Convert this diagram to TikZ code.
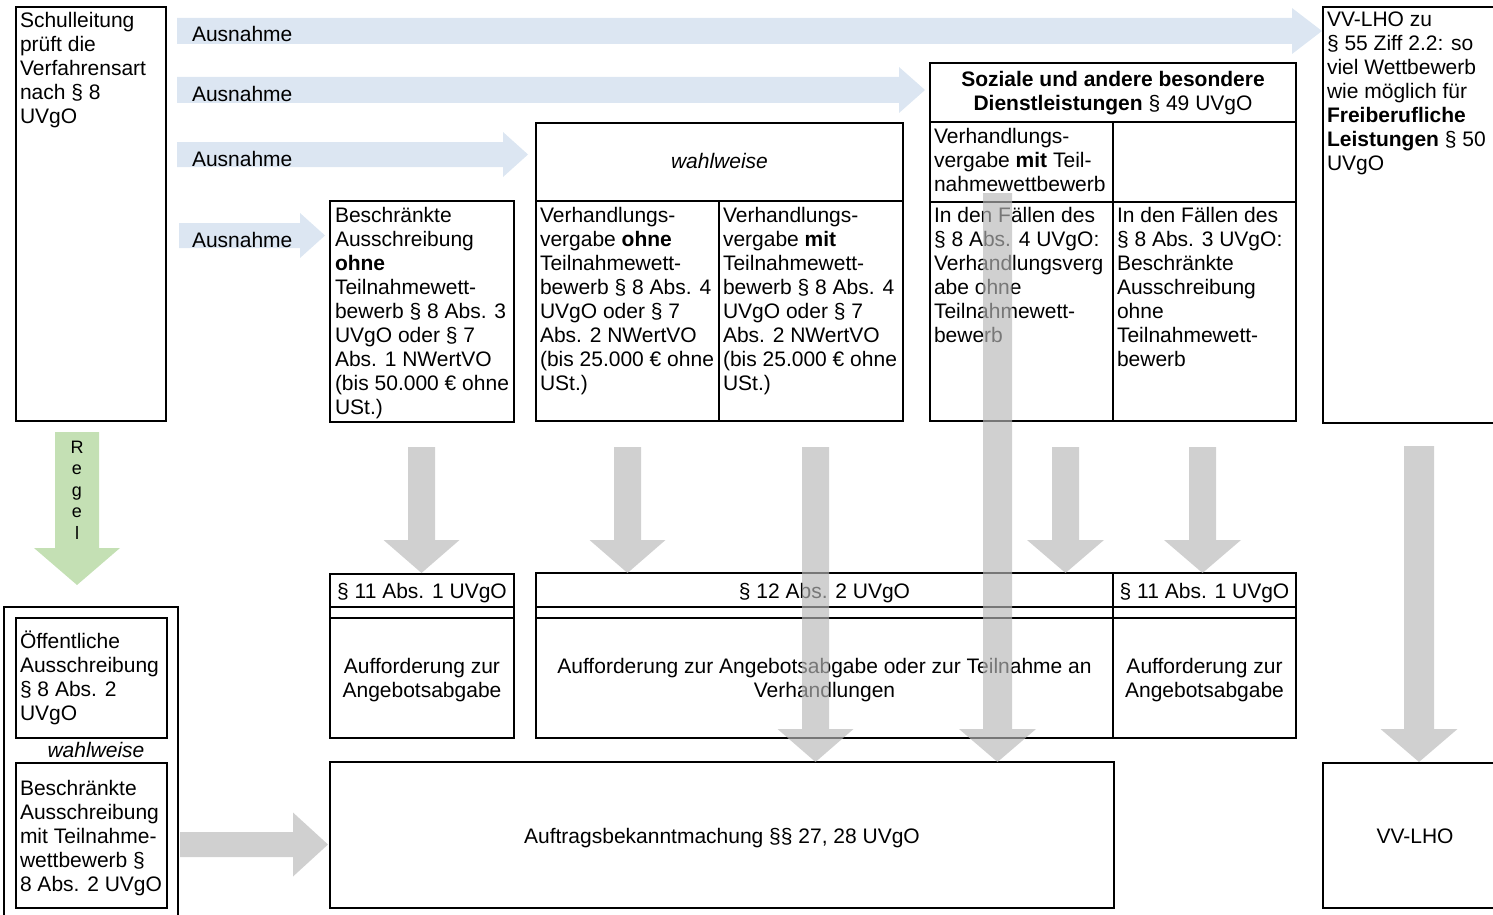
\documentclass[tikz,border=0pt]{standalone}
\usepackage{fontspec}
\setmainfont{Liberation Sans}
\definecolor{blueA}{RGB}{220,230,242}
\definecolor{greenA}{RGB}{196,224,180}
\definecolor{grayA}{RGB}{183,183,183}
\newcommand\bx[5]{\node[box, minimum width={(#4)-(#2)}, minimum height={(#5)-(#3)}] (#1) at (#2,#3) {};}
\newcommand\tl[1]{\begin{tabular}[t]{@{}l@{}}#1\end{tabular}}
\newcommand\tc[1]{\begin{tabular}[t]{@{}c@{}}#1\end{tabular}}
% down block arrow: style, xc, ytop, ytip, half shaft, half head, head length
\newcommand\DArr[7]{\fill[#1] ({#2-#5},#3) -- ({#2+#5},#3) -- ({#2+#5},{#4-#7}) -- ({#2+#6},{#4-#7}) -- (#2,#4) -- ({#2-#6},{#4-#7}) -- ({#2-#5},{#4-#7}) -- cycle;}
% right block arrow: style, x0, yc, xtip, half shaft, half head, head length
\newcommand\RArr[7]{\fill[#1] (#2,{#3-#5}) -- ({#4-#7},{#3-#5}) -- ({#4-#7},{#3-#6}) -- (#4,#3) -- ({#4-#7},{#3+#6}) -- ({#4-#7},{#3+#5}) -- (#2,{#3+#5}) -- cycle;}
\begin{document}
\begin{tikzpicture}[x=1pt,y=-1pt,
  box/.style={draw, line width=2.2pt, outer sep=0pt, inner sep=0pt, anchor=north west},
  txt/.style={inner sep=0pt, outer sep=0pt, font=\fontsize{21}{24}\selectfont, anchor=base west},
  ctxt/.style={txt, anchor=base},
  itxt/.style={ctxt, font=\fontsize{21}{24}\selectfont\itshape},
  garrow/.style={fill=grayA, fill opacity=0.65},
  barrow/.style={fill=blueA},
  rarrow/.style={fill=greenA},
  ]
\useasboundingbox (0,0) rectangle (1493,915);
\clip (0,0) rectangle (1493,915);

% blue "Ausnahme" arrows
\RArr{barrow}{177}{31}{1322}{13}{23}{30}
\RArr{barrow}{177}{90}{925}{13}{23}{26}
\RArr{barrow}{177}{154.5}{528}{12.5}{22.5}{25}
\RArr{barrow}{179}{235.5}{325}{12.5}{22.5}{25}
\node[txt] (aus1) at (192,42) {Ausnahme};
\node[txt] (aus2) at (192,102) {Ausnahme};
\node[txt] (aus3) at (192,166) {Ausnahme};
\node[txt] (aus4) at (192,247) {Ausnahme};

% green "Regel" arrow
\DArr{rarrow}{77}{432}{585}{22}{43}{37}
\node[ctxt, font=\fontsize{18}{21.5}\selectfont] (regel) at (77,453) {\tc{R\\e\\g\\e\\l}};

% top row
\bx{A}{16}{7}{166}{421}
\node[txt] (tA) at (20,28) {\tl{Schulleitung\\prüft die\\Verfahrensart\\nach § 8\\UVgO}};

\bx{B}{330}{201}{514}{422}
\node[txt] (tB) at (335,222) {\tl{Beschränkte\\Ausschreibung\\\textbf{ohne}\\Teilnahmewett-\\bewerb § 8 Abs. 3\\UVgO oder § 7\\Abs. 1 NWertVO\\(bis 50.000 € ohne\\USt.)}};

\bx{W}{536}{123}{903}{201}
\bx{W1}{536}{201}{719}{421}
\bx{W2}{719}{201}{903}{421}
\node[itxt] (tW) at (719.5,168) {wahlweise};
\node[txt] (tW1) at (540,222) {\tl{Verhandlungs-\\vergabe \textbf{ohne}\\Teilnahmewett-\\bewerb § 8 Abs. 4\\UVgO oder § 7\\Abs. 2 NWertVO\\(bis 25.000 € ohne\\USt.)}};
\node[txt] (tW2) at (723,222) {\tl{Verhandlungs-\\vergabe \textbf{mit}\\Teilnahmewett-\\bewerb § 8 Abs. 4\\UVgO oder § 7\\Abs. 2 NWertVO\\(bis 25.000 € ohne\\USt.)}};

\bx{S}{930}{63}{1296}{122}
\bx{S1}{930}{122}{1113}{202}
\bx{S2}{1113}{122}{1296}{202}
\bx{S3}{930}{202}{1113}{421}
\bx{S4}{1113}{202}{1296}{421}
\node[ctxt] (tS) at (1113,87) {\tc{\textbf{Soziale und andere besondere}\\\textbf{Dienstleistungen} § 49 UVgO}};
\node[txt] (tS1) at (934,143) {\tl{Verhandlungs-\\vergabe \textbf{mit} Teil-\\nahmewettbewerb}};
\node[txt] (tS3) at (934,222) {\tl{In den Fällen des\\§ 8 Abs. 4 UVgO:\\Verhandlungsverg\\abe ohne\\Teilnahmewett-\\bewerb}};
\node[txt] (tS4) at (1117,222) {\tl{In den Fällen des\\§ 8 Abs. 3 UVgO:\\Beschränkte\\Ausschreibung\\ohne\\Teilnahmewett-\\bewerb}};

\bx{V}{1323}{7}{1520}{423}
\node[txt] (tV) at (1327,27) {\tl{VV-LHO zu\\§ 55 Ziff 2.2: so\\viel Wettbewerb\\wie möglich für\\\textbf{Freiberufliche}\\\textbf{Leistungen} § 50\\UVgO}};

% middle row
\bx{Ca}{330}{574}{514}{607}
\bx{Cb}{330}{607}{514}{618}
\bx{Cc}{330}{618}{514}{738}
\node[ctxt] (tCa) at (422,598) {§ 11 Abs. 1 UVgO};
\node[ctxt] (tCc) at (422,673) {\tc{Aufforderung zur\\Angebotsabgabe}};

\bx{Da}{536}{573}{1113}{607}
\bx{Db}{536}{607}{1113}{618}
\bx{Dc}{536}{618}{1113}{738}
\node[ctxt] (tDa) at (824.5,598) {§ 12 Abs. 2 UVgO};
\node[ctxt] (tDc) at (824.5,673) {\tc{Aufforderung zur Angebotsabgabe oder zur Teilnahme an\\Verhandlungen}};

\bx{Ea}{1113}{573}{1296}{607}
\bx{Eb}{1113}{607}{1296}{618}
\bx{Ec}{1113}{618}{1296}{738}
\node[ctxt] (tEa) at (1204.5,598) {§ 11 Abs. 1 UVgO};
\node[ctxt] (tEc) at (1204.5,673) {\tc{Aufforderung zur\\Angebotsabgabe}};

% bottom row
\bx{L}{4}{607}{178}{935}
\bx{L1}{16}{618}{167}{738}
\bx{L2}{16}{763}{167}{908}
\node[txt] (tL1) at (20,648) {\tl{Öffentliche\\Ausschreibung\\§ 8 Abs. 2\\UVgO}};
\node[itxt] (tLw) at (96,757) {wahlweise};
\node[txt] (tL2) at (20,795) {\tl{Beschränkte\\Ausschreibung\\mit Teilnahme-\\wettbewerb §\\8 Abs. 2 UVgO}};

\bx{G}{330}{762}{1114}{908}
\node[ctxt] (tG) at (722,843) {Auftragsbekanntmachung §§ 27, 28 UVgO};

\bx{H}{1323}{763}{1508}{908}
\node[ctxt] (tH) at (1415,843) {VV-LHO};

% gray arrows
\RArr{garrow}{180}{844.5}{328}{12.5}{32}{35}
\DArr{garrow}{421.5}{447}{573}{13.5}{38}{33}
\DArr{garrow}{627.5}{447}{573}{13.5}{38}{33}
\DArr{garrow}{815.5}{447}{762}{13.5}{38}{33}
\DArr{garrow}{997.5}{193}{762}{14.5}{38.5}{33}
\DArr{garrow}{1065.5}{447}{573}{13.5}{38.5}{33}
\DArr{garrow}{1202.5}{447}{573}{13.5}{38.5}{33}
\DArr{garrow}{1419}{446}{762}{15}{38.5}{33}
\end{tikzpicture}
\end{document}
